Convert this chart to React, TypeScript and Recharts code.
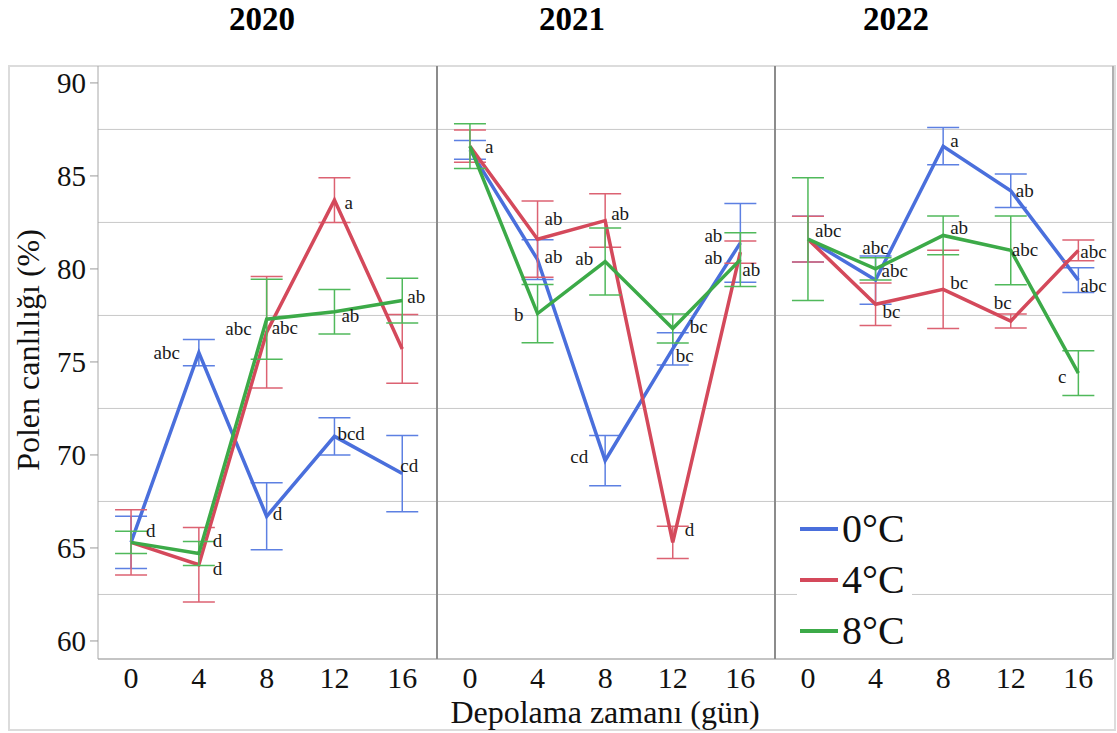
import React from 'react';
import { LineChart, Line, XAxis, YAxis, ErrorBar, ReferenceLine, LabelList, Legend } from 'recharts';

const serif = '"Liberation Serif", "Times New Roman", serif';

// storage time (days)
const days = [0, 4, 8, 12, 16];
const yTicks = [60, 65, 70, 75, 80, 85, 90];
const gridValues = [62.5, 67.5, 72.5, 77.5, 82.5, 87.5];
const seriesNames = ['0°C', '4°C', '8°C'];

// 2020
const m0_2020 = [65.3, 75.5, 66.7, 71.0, 69.0];
const e0_2020 = [1.4, 0.7, 1.8, 1.0, 2.05];
const m4_2020 = [65.3, 64.1, 76.6, 83.7, 75.7];
const e4_2020 = [1.75, 2.0, 3.0, 1.2, 1.85];
const m8_2020 = [65.3, 64.7, 77.3, 77.7, 78.3];
const e8_2020 = [0.6, 0.65, 2.15, 1.2, 1.2];
const l0_2020 = ['d', 'abc', 'd', 'bcd', 'cd'];
const l4_2020 = ['', 'd', 'abc', 'a', ''];
const l8_2020 = ['', 'd', 'abc', 'ab', 'ab'];

// 2021
const m0_2021 = [86.4, 80.5, 69.7, 75.7, 81.4];
const e0_2021 = [0.5, 1.07, 1.35, 0.87, 2.12];
const m4_2021 = [86.6, 81.6, 82.6, 65.3, 80.9];
const e4_2021 = [0.87, 2.05, 1.44, 0.87, 0.6];
const m8_2021 = [86.6, 77.6, 80.4, 76.8, 80.5];
const e8_2021 = [1.2, 1.57, 1.8, 0.78, 1.45];
const l0_2021 = ['', 'ab', 'cd', 'bc', 'ab'];
const l4_2021 = ['a', 'ab', 'ab', 'd', 'ab'];
const l8_2021 = ['', 'b', 'ab', 'bc', 'ab'];

// 2022
const m0_2022 = [81.6, 79.4, 86.6, 84.2, 79.4];
const e0_2022 = [1.23, 1.3, 1.0, 0.9, 0.67];
const m4_2022 = [81.6, 78.1, 78.9, 77.2, 81.0];
const e4_2022 = [1.23, 1.14, 2.1, 0.38, 0.56];
const m8_2022 = [81.6, 80.0, 81.8, 81.0, 74.4];
const e8_2022 = [3.3, 0.6, 1.04, 1.85, 1.2];
const l0_2022 = ['', 'abc', 'a', 'ab', 'abc'];
const l4_2022 = ['', 'bc', 'bc', 'bc', 'abc'];
const l8_2022 = ['abc', 'abc', 'ab', 'abc', 'c'];

// letter placement next to each point: [anchor, dx, dy]
type Place = [string, number, number] | null;
const p0_2020: Place[] = [['start', 15, -12], ['end', -19, 0], ['start', 6, -3], ['start', 3, -3], ['start', -2, -8]];
const p4_2020: Place[] = [null, ['start', 14, 4], ['end', -15, -4], ['start', 10, 2], null];
const p8_2020: Place[] = [null, ['start', 14, -13], ['start', 5, 8], ['start', 7, 4], ['start', 5, -4]];
const p0_2021: Place[] = [null, ['start', 7, -3], ['end', -17, -4], ['start', 3, 7], ['end', -18, -7]];
const p4_2021: Place[] = [['start', 15, 0], ['start', 7, -21], ['start', 6, -7], ['start', 12, -13], ['end', -18, 5]];
const p8_2021: Place[] = [null, ['end', -14, 1], ['end', -12, -3], ['start', 17, -2], ['start', 2, 10]];
const p0_2022: Place[] = [null, ['middle', 0, -33], ['start', 7, -6], ['start', 5, 0], ['start', 2, 5]];
const p4_2022: Place[] = [null, ['start', 7, 7], ['start', 7, -7], ['middle', -8, -19], ['start', 2, 1]];
const p8_2022: Place[] = [['start', 7, -9], ['start', 6, 2], ['start', 7, -8], ['start', 1, -1], ['end', -12, 3]];

const colors = ['#4a6fdc', '#d4495b', '#3caa48'];
const errColors = ['#5d80e2', '#dc6272', '#50b95b'];

function buildRows(m: number[][], e: number[][], l: string[][]) {
  return days.map((d, i) => ({
    day: d,
    m0: m[0][i], m4: m[1][i], m8: m[2][i],
    e0: e[0][i], e4: e[1][i], e8: e[2][i],
    l0: l[0][i], l4: l[1][i], l8: l[2][i],
  }));
}

const rows2020 = buildRows([m0_2020, m4_2020, m8_2020], [e0_2020, e4_2020, e8_2020], [l0_2020, l4_2020, l8_2020]);
const rows2021 = buildRows([m0_2021, m4_2021, m8_2021], [e0_2021, e4_2021, e8_2021], [l0_2021, l4_2021, l8_2021]);
const rows2022 = buildRows([m0_2022, m4_2022, m8_2022], [e0_2022, e4_2022, e8_2022], [l0_2022, l4_2022, l8_2022]);

const makeLetter = (place: Place[]) => (props: any) => {
  const idx = props.index;
  const p = place[idx];
  const value = props.value;
  if (!p || !value) return null;
  const x = props.x ?? props.viewBox?.x;
  const y = props.y ?? props.viewBox?.y;
  return (
    <text x={x + p[1]} y={y + p[2]} textAnchor={p[0]} dominantBaseline="central"
      fontSize={19} fontFamily={serif} fill="#1a1a1a">
      {value}
    </text>
  );
};

const renderLegend = (props: any) => {
  const payload = props.payload || [];
  return (
    <div style={{ background: '#fff', width: 115, height: 153 }}>
      {payload.map((entry: any) => (
        <div key={entry.value} style={{ height: 51, display: 'flex', alignItems: 'center' }}>
          <div style={{ width: 38, height: 4, background: entry.color, marginLeft: 3, marginRight: 4 }} />
          <span style={{ fontFamily: serif, fontSize: 40, color: '#111', lineHeight: '51px' }}>{entry.value}</span>
        </div>
      ))}
    </div>
  );
};

function Panel({ rows, width, showY, places, legend }: any) {
  const keys = ['0', '4', '8'];
  return (
    <LineChart width={width} height={633} data={rows} margin={{ top: 0, right: 0, bottom: 0, left: 0 }}>
      {gridValues.map((v) => (
        <ReferenceLine key={v} y={v} stroke="#c8c8c8" strokeWidth={1} />
      ))}
      <XAxis type="number" dataKey="day" domain={[-1.95, 18.05]} ticks={days} interval={0}
        allowDataOverflow tickLine={false} height={40}
        axisLine={{ stroke: '#c4c4c4', strokeWidth: 2 }}
        tick={{ fill: '#111', fontSize: 30, fontFamily: serif }} />
      <YAxis type="number" domain={[59.03, 90.91]} ticks={yTicks} allowDataOverflow
        hide={!showY} width={90} tickSize={8} tickMargin={4}
        axisLine={{ stroke: '#a8a8a8' }} tickLine={{ stroke: '#999' }}
        tick={{ fill: '#111', fontSize: 29, fontFamily: serif }} />
      {keys.map((k, i) => (
        <Line key={k} type="linear" dataKey={'m' + k} name={seriesNames[i]} stroke={colors[i]}
          strokeWidth={3.5} dot={false} activeDot={false} isAnimationActive={false}>
          <ErrorBar dataKey={'e' + k} width={16} stroke={errColors[i]} strokeWidth={1.5} isAnimationActive={false} />
          <LabelList dataKey={'l' + k} content={makeLetter(places[i])} />
        </Line>
      ))}
      {legend && (
        <Legend layout="vertical" align="center" verticalAlign="middle" content={renderLegend}
          wrapperStyle={{ left: 22, top: 437, width: 115, height: 153 }} />
      )}
    </LineChart>
  );
}

const vline = (x: number) => (
  <div style={{ position: 'absolute', left: x - 1, top: 66, width: 1.5, height: 593, background: '#8c8c8c' }} />
);

export default function App() {
  return (
    <div style={{ position: 'relative', width: 1117, height: 733, background: '#fff', fontFamily: serif, overflow: 'hidden' }}>
      <style>{'body{margin:0;}'}</style>
      <div style={{ position: 'absolute', left: 8, top: 65, width: 1104, height: 662, border: '2px solid #dcdcdc' }} />

      <div style={{ position: 'absolute', left: 8, top: 66 }}>
        <Panel rows={rows2020} width={429} showY places={[p0_2020, p4_2020, p8_2020]} />
      </div>
      <div style={{ position: 'absolute', left: 437, top: 66 }}>
        <Panel rows={rows2021} width={338} places={[p0_2021, p4_2021, p8_2021]} />
      </div>
      <div style={{ position: 'absolute', left: 775, top: 66 }}>
        <Panel rows={rows2022} width={338} places={[p0_2022, p4_2022, p8_2022]} legend />
      </div>

      {vline(437)}
      {vline(775)}
      <div style={{ position: 'absolute', left: 1112, top: 66, width: 1.5, height: 593, background: '#b0b0b0' }} />

      {[['2020', 262], ['2021', 572], ['2022', 896]].map(([t, cx]) => (
        <div key={t as string} style={{ position: 'absolute', left: (cx as number) - 60, top: 0, width: 120, textAlign: 'center', fontWeight: 'bold', fontSize: 33, lineHeight: '38px', color: '#000' }}>
          {t}
        </div>
      ))}

      <div style={{ position: 'absolute', left: 28 - 150, top: 350 - 20, width: 300, height: 40, lineHeight: '40px', textAlign: 'center', fontSize: 32, color: '#111', transform: 'rotate(-90deg)' }}>
        Polen canlılığı (%)
      </div>
      <div style={{ position: 'absolute', left: 605 - 200, top: 692, width: 400, textAlign: 'center', fontSize: 32, lineHeight: '40px', color: '#111' }}>
        Depolama zamanı (gün)
      </div>
    </div>
  );
}
